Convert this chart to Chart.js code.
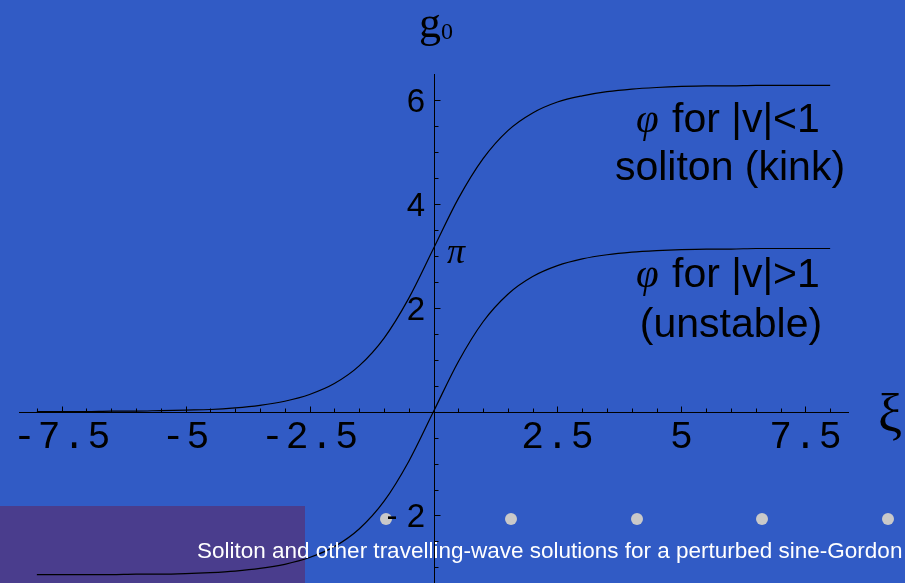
<!DOCTYPE html>
<html>
<head>
<meta charset="utf-8">
<script src="https://cdn.jsdelivr.net/npm/chart.js@4/dist/chart.umd.min.js"></script>
<style>
  html, body { margin: 0; padding: 0; background: #315BC5; }
  canvas { display: block; }
</style>
</head>
<body>
<canvas id="c" width="905" height="583"></canvas>
<script>
// Sample positions along ξ
const xi = [-8, -7.5, -7, -6.5, -6, -5.5, -5, -4.5, -4, -3.5, -3, -2.5, -2, -1.5, -1, -0.5,
            0, 0.5, 1, 1.5, 2, 2.5, 3, 3.5, 4, 4.5, 5, 5.5, 6, 6.5, 7, 7.5, 8];

// φ for |v|<1 : soliton (kink), rises from 0 to 2π
const kink = [0.00, 0.00, 0.00, 0.01, 0.01, 0.02, 0.03, 0.04, 0.07, 0.12, 0.20, 0.33, 0.54, 0.88, 1.41, 2.18,
              3.14, 4.10, 4.87, 5.41, 5.75, 5.96, 6.08, 6.16, 6.21, 6.24, 6.26, 6.27, 6.27, 6.28, 6.28, 6.28, 6.28];

// φ for |v|>1 : unstable wave, rises from -π to π
const unstable = [-3.14, -3.14, -3.14, -3.14, -3.13, -3.13, -3.12, -3.10, -3.07, -3.02, -2.94, -2.81, -2.60, -2.26, -1.73, -0.96,
                  0.00, 0.96, 1.73, 2.26, 2.60, 2.81, 2.94, 3.02, 3.07, 3.10, 3.12, 3.13, 3.13, 3.14, 3.14, 3.14, 3.14];

// Axis tick labels
const xTickLabels = [-7.5, -5, -2.5, 2.5, 5, 7.5];
const yTickLabels = [-2, 2, 4, 6];

const toPoints = ys => xi.map((x, i) => ({ x: x, y: ys[i] }));

const BG = '#315BC5';
const PURPLE = '#4A3D8D';

const decor = {
  id: 'decor',
  beforeDraw(chart) {
    const ctx = chart.ctx;
    ctx.save();
    ctx.fillStyle = BG;
    ctx.fillRect(0, 0, chart.width, chart.height);
    ctx.fillStyle = PURPLE;
    ctx.fillRect(0, 506, 305, 77);
    ctx.restore();
  },
  afterDraw(chart) {
    const ctx = chart.ctx;
    const xs = chart.scales.x, ys = chart.scales.y;
    const x0 = Math.round(xs.getPixelForValue(0)) + 0.5;
    const y0 = Math.round(ys.getPixelForValue(0)) + 0.5;
    ctx.save();

    // slide bullets
    ctx.fillStyle = '#C9C9C9';
    [386, 511, 637, 762, 888].forEach(cx => {
      ctx.beginPath();
      ctx.arc(cx, 519, 6, 0, Math.PI * 2);
      ctx.fill();
    });

    // axes
    ctx.strokeStyle = '#000';
    ctx.lineWidth = 1;
    ctx.beginPath();
    ctx.moveTo(xs.getPixelForValue(xs.min), y0);
    ctx.lineTo(xs.getPixelForValue(xs.max), y0);
    ctx.moveTo(x0, ys.getPixelForValue(ys.max));
    ctx.lineTo(x0, chart.height);
    ctx.stroke();

    // ticks on ξ axis (pointing up)
    ctx.beginPath();
    for (let v = -8; v <= 8.001; v += 0.5) {
      if (Math.abs(v) < 1e-9) continue;
      const px = Math.round(xs.getPixelForValue(v)) + 0.5;
      const major = Math.abs(v / 2.5 - Math.round(v / 2.5)) < 1e-9;
      ctx.moveTo(px, y0);
      ctx.lineTo(px, y0 - (major ? 6 : 4));
    }
    // ticks on g0 axis (pointing right)
    for (let v = -3; v <= 6.001; v += 0.5) {
      if (Math.abs(v) < 1e-9) continue;
      const py = Math.round(ys.getPixelForValue(v)) + 0.5;
      const major = Math.abs(v / 2 - Math.round(v / 2)) < 1e-9;
      ctx.moveTo(x0, py);
      ctx.lineTo(x0 + (major ? 6 : 4), py);
    }
    ctx.stroke();

    // ξ tick labels
    ctx.fillStyle = '#000';
    ctx.font = '38px "Liberation Mono", monospace';
    ctx.textAlign = 'center';
    ctx.textBaseline = 'alphabetic';
    try { ctx.letterSpacing = '2px'; } catch (e) {}
    xTickLabels.forEach(v => {
      ctx.fillText(String(v), xs.getPixelForValue(v) + 1, 448);
    });
    try { ctx.letterSpacing = '0px'; } catch (e) {}

    // g0 tick labels
    ctx.font = '33px "Liberation Sans", Arial, sans-serif';
    ctx.textAlign = 'right';
    yTickLabels.forEach(v => {
      const txt = v < 0 ? '- ' + Math.abs(v) : String(v);
      ctx.fillText(txt, 425, ys.getPixelForValue(v) + 12);
    });

    // axis titles
    ctx.textAlign = 'left';
    ctx.font = '44px "Liberation Serif", "Times New Roman", serif';
    ctx.fillText('g', 419, 37);
    ctx.font = '24px "Liberation Serif", "Times New Roman", serif';
    ctx.fillText('0', 441, 39);
    ctx.font = '54px "Liberation Serif", "Times New Roman", serif';
    ctx.fillText('ξ', 878, 432);

    // π marker next to the crossing point
    ctx.font = 'italic 36px "Liberation Serif", "Times New Roman", serif';
    ctx.fillText('π', 447, 263);

    // curve annotations
    const sans = '41px "Liberation Sans", Arial, sans-serif';
    const phiFont = 'italic 41px "Liberation Serif", "Times New Roman", serif';
    ctx.textAlign = 'left';
    ctx.font = phiFont;
    ctx.fillText('φ', 636, 132);
    ctx.fillText('φ', 636, 287);
    ctx.font = sans;
    ctx.fillText('for |v|<1', 672, 132);
    ctx.fillText('for |v|>1', 672, 287);
    ctx.textAlign = 'center';
    ctx.fillText('soliton (kink)', 730, 180);
    ctx.fillText('(unstable)', 731, 337);

    // footer caption
    ctx.textAlign = 'left';
    ctx.fillStyle = '#FFFFFF';
    ctx.font = '22.5px "Liberation Sans", Arial, sans-serif';
    ctx.fillText('Soliton and other travelling-wave solutions for a perturbed sine-Gordon', 197, 558);

    ctx.restore();
  }
};

new Chart(document.getElementById('c'), {
  type: 'line',
  data: {
    datasets: [
      { label: 'φ for |v|<1', data: toPoints(kink) },
      { label: 'φ for |v|>1', data: toPoints(unstable) }
    ].map(d => Object.assign(d, {
      borderColor: '#000',
      borderWidth: 1.2,
      pointRadius: 0,
      fill: false,
      cubicInterpolationMode: 'monotone'
    }))
  },
  options: {
    responsive: false,
    animation: false,
    devicePixelRatio: 1,
    layout: { padding: { left: 19, right: 56, top: 74, bottom: 0 } },
    plugins: { legend: { display: false }, tooltip: { enabled: false } },
    scales: {
      x: { type: 'linear', min: -8.36, max: 8.38, display: false },
      y: { type: 'linear', min: -3.3, max: 6.5, display: false }
    }
  },
  plugins: [decor]
});
</script>
</body>
</html>
